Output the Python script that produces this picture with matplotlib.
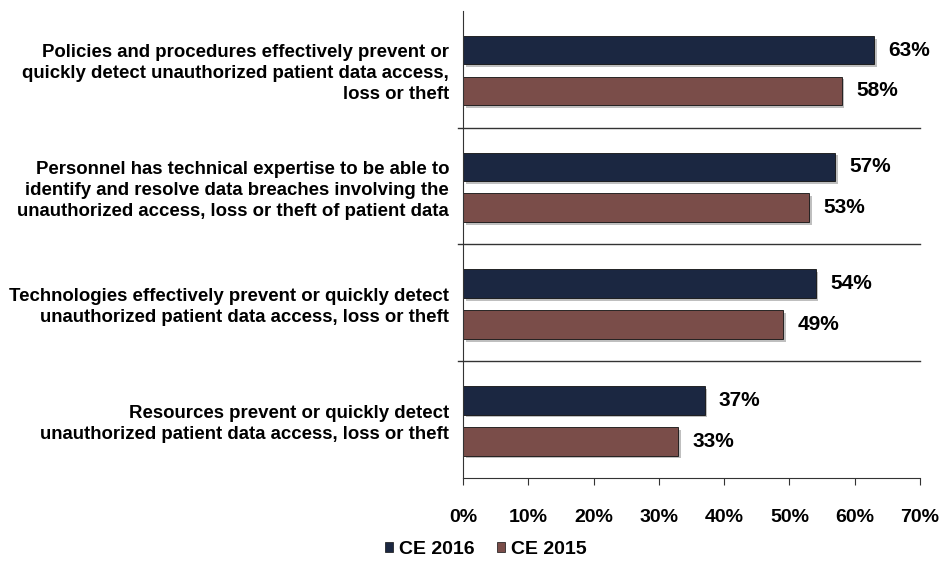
import matplotlib.pyplot as plt
import matplotlib.patheffects as pe
from matplotlib.patches import Patch
import numpy as np

plt.rcParams["font.family"] = ["Liberation Sans", "DejaVu Sans"]

categories = [
    "Policies and procedures effectively prevent or\nquickly detect unauthorized patient data access,\nloss or theft",
    "Personnel has technical expertise to be able to\nidentify and resolve data breaches involving the\nunauthorized access, loss or theft of patient data",
    "Technologies effectively prevent or quickly detect\nunauthorized patient data access, loss or theft",
    "Resources prevent or quickly detect\nunauthorized patient data access, loss or theft",
]
ce2016 = [63, 57, 54, 37]
ce2015 = [58, 53, 49, 33]
series_names = ["CE 2016", "CE 2015"]
colors = ["#1b2741", "#7a4d49"]

fig = plt.figure(figsize=(9.47, 5.63), dpi=100)
ax = fig.add_axes([0.489, 0.151, 0.4825, 0.8295])

y = np.arange(len(categories))
h = 0.245
shadow = [pe.SimplePatchShadow(offset=(2, -2), shadow_rgbFace="#b0b0b0", alpha=0.8), pe.Normal()]

for vals, shift, col in [(ce2016, -0.165, colors[0]), (ce2015, 0.185, colors[1])]:
    bars = ax.barh(y + shift, vals, height=h, color=col, edgecolor="#111111", linewidth=0.6)
    for b in bars:
        b.set_path_effects(shadow)
    for yy, v in zip(y + shift, vals):
        ax.text(v + 2.2, yy, f"{v}%", va="center", ha="left", fontsize=15, fontweight="bold")

ax.set_xlim(0, 70)
ax.set_ylim(len(categories) - 0.5, -0.5)
ax.set_xticks(np.arange(0, 71, 10))
ax.set_xticklabels([f"{t}%" for t in range(0, 71, 10)], fontsize=14, fontweight="bold")
ax.set_yticks(y)
ax.set_yticklabels(categories, fontsize=13.4, fontweight="bold", multialignment="right", linespacing=1.32)
ax.tick_params(axis="y", length=0, pad=10)
ax.tick_params(axis="x", length=5, direction="out", pad=17, color="#333333")

for s in ["top", "right"]:
    ax.spines[s].set_visible(False)
ax.spines["left"].set_color("#333333")
ax.spines["bottom"].set_color("#333333")

for sep in [0.5, 1.5, 2.5]:
    ax.axhline(sep, xmin=-0.012, xmax=1.0, color="#333333", linewidth=1.0, clip_on=False)

handles = [Patch(facecolor=c, edgecolor="#111111", linewidth=0.5) for c in colors]
fig.legend(handles, series_names, loc="center", bbox_to_anchor=(0.513, 0.024), ncol=2,
           frameon=False, handlelength=0.4, handleheight=0.45,
           handletextpad=0.3, columnspacing=1.2, prop={"weight": "bold", "size": 14})

fig.savefig("out.png", dpi=100)
